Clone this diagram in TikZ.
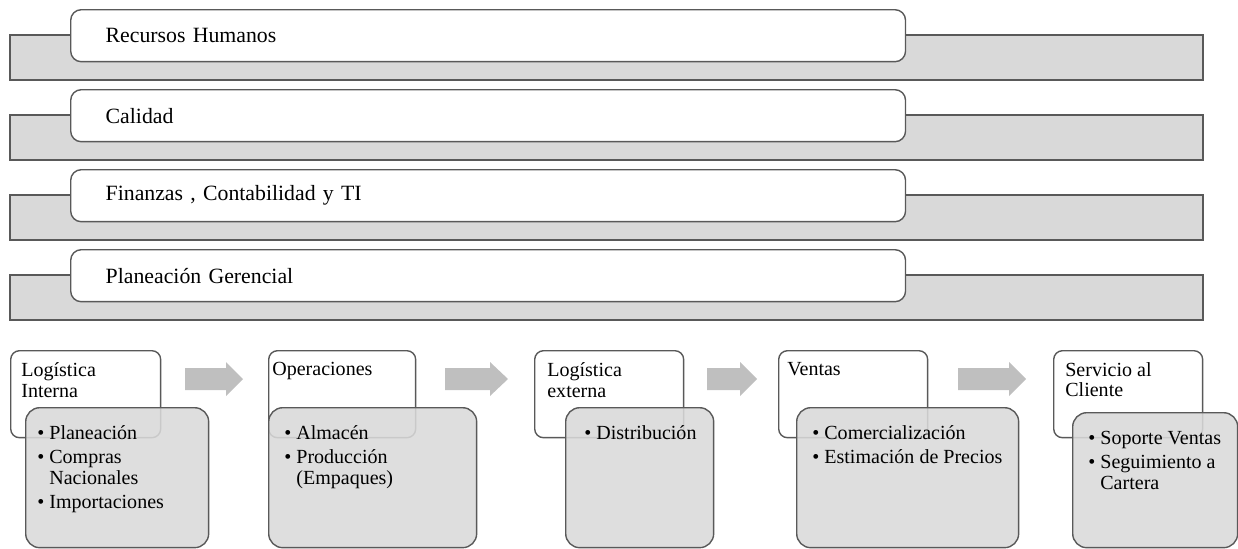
\documentclass[tikz,border=0pt]{standalone}
\usepackage{fontspec}
\setmainfont{Liberation Serif}
\usepackage{tikz}
\usetikzlibrary{positioning}
\definecolor{barfill}{RGB}{217,217,217}
\definecolor{edgegray}{RGB}{89,89,89}
\definecolor{flowgray}{RGB}{191,191,191}
\newcommand{\hang}{\hphantom{\textbullet\ }}

\begin{document}
\begin{tikzpicture}[
    x=0.02cm, y=-0.02cm,
    bar/.style={draw=edgegray, line width=0.8pt, fill=barfill},
    area/.style={rectangle, draw=edgegray, line width=0.8pt, fill=white, rounded corners=6pt, anchor=north west, minimum width=16.7cm, minimum height=1.04cm, text width=15.3cm, inner xsep=0.7cm, align=left, font=\fontsize{12.4}{14}\selectfont},
    head/.style={rectangle, draw=edgegray, line width=0.8pt, fill=white, rounded corners=5pt, anchor=north west, minimum height=1.74cm, inner sep=0pt},
    det/.style={rectangle, draw=edgegray, line width=0.8pt, fill=barfill, fill opacity=0.88, rounded corners=8pt, anchor=north west, inner sep=0pt},
    txt/.style={anchor=north west, inner sep=0pt, align=left, font=\fontsize{11.4}{11.8}\selectfont},
    flow/.style={fill=flowgray}
]
\useasboundingbox (0,0) rectangle (1238,548);

\draw[bar] (10,35) rectangle (1203,80);
\node[area] (rrhh) at (70,9) {Recursos Humanos};
\draw[bar] (10,115) rectangle (1203,160);
\node[area] (cal) at (70,89) {Calidad};
\draw[bar] (10,195) rectangle (1203,240);
\node[area] (fin) at (70,169) {Finanzas , Contabilidad y TI};
\draw[bar] (10,275) rectangle (1203,320);
\node[area] (plan) at (70,249) {Planeación Gerencial};

\node[head, minimum width=3cm] (li) at (10,350) {};
\node[det, minimum width=3.66cm, minimum height=2.8cm] (lid) at (25,407) {};
\node[txt] (lit) at (21,362) {Logística\\Interna};
\node[txt] (lidt) at (37,425) {\textbullet\ Planeación\\[2pt]\textbullet\ Compras\\\hang Nacionales\\[2pt]\textbullet\ Importaciones};

\node[head, minimum width=2.94cm] (op) at (268,350) {};
\node[det, minimum width=4.16cm, minimum height=2.8cm] (opd) at (268,407) {};
\node[txt] (opt) at (272,362) {Operaciones};
\node[txt] (opdt) at (284,425) {\textbullet\ Almacén\\[2pt]\textbullet\ Producción\\\hang(Empaques)};

\node[head, minimum width=2.98cm] (le) at (534,350) {};
\node[det, minimum width=2.96cm, minimum height=2.8cm] (led) at (565,407) {};
\node[txt] (let) at (547,362) {Logística\\externa};
\node[txt] (ledt) at (584,425) {\textbullet\ Distribución};

\node[head, minimum width=2.98cm] (ve) at (778,350) {};
\node[det, minimum width=4.44cm, minimum height=2.8cm] (ved) at (796,407) {};
\node[txt] (vet) at (787,362) {Ventas};
\node[txt] (vedt) at (812,425) {\textbullet\ Comercialización\\[2pt]\textbullet\ Estimación de Precios};

\node[head, minimum width=2.98cm] (sc) at (1053,350) {};
\node[det, minimum width=3.3cm, minimum height=2.7cm] (scd) at (1072,412) {};
\node[txt] (sct) at (1065,362) {Servicio al\\Cliente};
\node[txt] (scdt) at (1088,431) {\textbullet\ Soporte Ventas\\[2pt]\textbullet\ Seguimiento a\\\hang Cartera};

\fill[flow] (185,368) -- (226,368) -- (226,362) -- (243,379) -- (226,396) -- (226,390) -- (185,390) -- cycle;
\fill[flow] (445,368) -- (490,368) -- (490,362) -- (508,379) -- (490,396) -- (490,390) -- (445,390) -- cycle;
\fill[flow] (707,368) -- (740,368) -- (740,362) -- (757,379) -- (740,396) -- (740,390) -- (707,390) -- cycle;
\fill[flow] (958,368) -- (1009,368) -- (1009,362) -- (1026,379) -- (1009,396) -- (1009,390) -- (958,390) -- cycle;
\end{tikzpicture}
\end{document}
